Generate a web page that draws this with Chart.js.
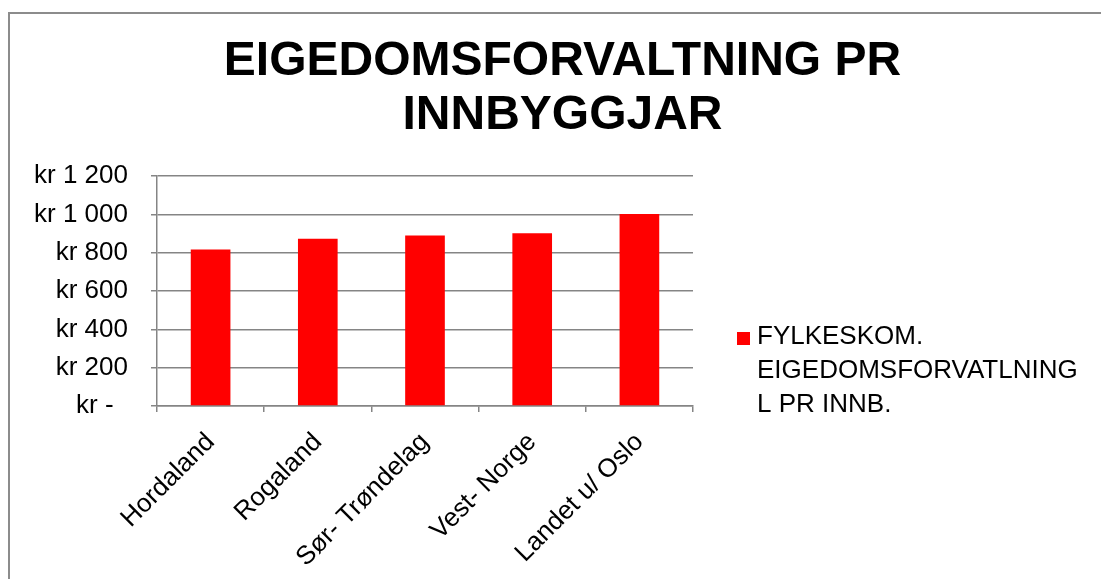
<!DOCTYPE html>
<html>
<head>
<meta charset="utf-8">
<script src="https://cdn.jsdelivr.net/npm/chart.js@4"></script>
<style>
  html, body { margin: 0; padding: 0; background: #fff; overflow: hidden; }
  #wrap { position: relative; width: 1101px; height: 579px; }
  #frame {
    position: absolute; left: 8px; top: 12px; width: 1300px; height: 800px;
    border-left: 2px solid #8c8c8c; border-top: 2px solid #8c8c8c;
  }
  #chart { position: absolute; left: 0; top: 0; }
</style>
</head>
<body>
<div id="wrap">
  <div id="frame"></div>
  <canvas id="chart" width="1101" height="579"></canvas>
</div>
<script>
// data
const categories = ['Hordaland', 'Rogaland', 'Sør- Trøndelag', 'Vest- Norge', 'Landet u/ Oslo'];
const values = [816, 873, 889, 901, 1002];
const yTickLabels = ['kr -  ', 'kr 200', 'kr 400', 'kr 600', 'kr 800', 'kr 1 000', 'kr 1 200'];
const seriesLines = ['FYLKESKOM.', 'EIGEDOMSFORVATLNING', 'L PR INNB.'];
const titleLines = ['EIGEDOMSFORVALTNING PR', 'INNBYGGJAR'];

const FONT = "'Liberation Sans', Arial, sans-serif";
const GRID = '#858585';
const RED = '#ff0000';

// legend drawn to the right of the plot, text wrapped like in the original
const sideLegend = {
  id: 'sideLegend',
  afterDraw(chart) {
    const ctx = chart.ctx;
    const area = chart.chartArea;
    const x = area.right + 44;
    const y0 = area.top + 159;
    ctx.save();
    ctx.fillStyle = RED;
    ctx.fillRect(x, y0 - 3, 13, 13);
    ctx.fillStyle = '#000';
    ctx.font = '26px ' + FONT;
    ctx.textAlign = 'left';
    ctx.textBaseline = 'middle';
    seriesLines.forEach((line, i) => {
      ctx.fillText(line, x + 20, y0 + 2 + i * 34);
    });
    ctx.restore();
  }
};

new Chart(document.getElementById('chart'), {
  type: 'bar',
  data: {
    labels: categories,
    datasets: [{
      label: seriesLines.join(' '),
      data: values,
      backgroundColor: RED,
      borderWidth: 0,
      barPercentage: 0.37,
      categoryPercentage: 1
    }]
  },
  options: {
    responsive: false,
    animation: false,
    layout: { padding: { left: 24, right: 0, top: 0, bottom: 0 } },
    plugins: {
      legend: { display: false },
      tooltip: { enabled: false },
      title: {
        display: true,
        text: titleLines,
        color: '#000',
        font: { family: FONT, size: 48, weight: 'bold', lineHeight: 54 / 48 },
        padding: { top: 35, bottom: 33 }
      }
    },
    scales: {
      x: {
        grid: { display: true, drawOnChartArea: false, offset: true, color: GRID, lineWidth: 1.5, tickLength: 6 },
        border: { display: true, color: GRID, width: 1.5 },
        ticks: {
          color: '#000',
          font: { family: FONT, size: 26 },
          minRotation: 45,
          maxRotation: 45,
          padding: 15,
          autoSkip: false
        },
        afterFit(s) { s.height = 173; }
      },
      y: {
        min: 0,
        max: 1200,
        grid: { color: GRID, lineWidth: 1.5, tickLength: 6 },
        border: { display: true, color: GRID, width: 1.5 },
        ticks: {
          stepSize: 200,
          color: '#000',
          font: { family: FONT, size: 26 },
          padding: 23,
          callback: (v, i) => yTickLabels[i]
        },
        afterFit(s) { s.width = 133; }
      },
      legendSpace: {
        type: 'linear',
        position: 'right',
        display: true,
        grid: { display: false },
        border: { display: false },
        ticks: { display: false },
        afterFit(s) { s.width = 408; }
      }
    }
  },
  plugins: [sideLegend]
});
</script>
</body>
</html>
